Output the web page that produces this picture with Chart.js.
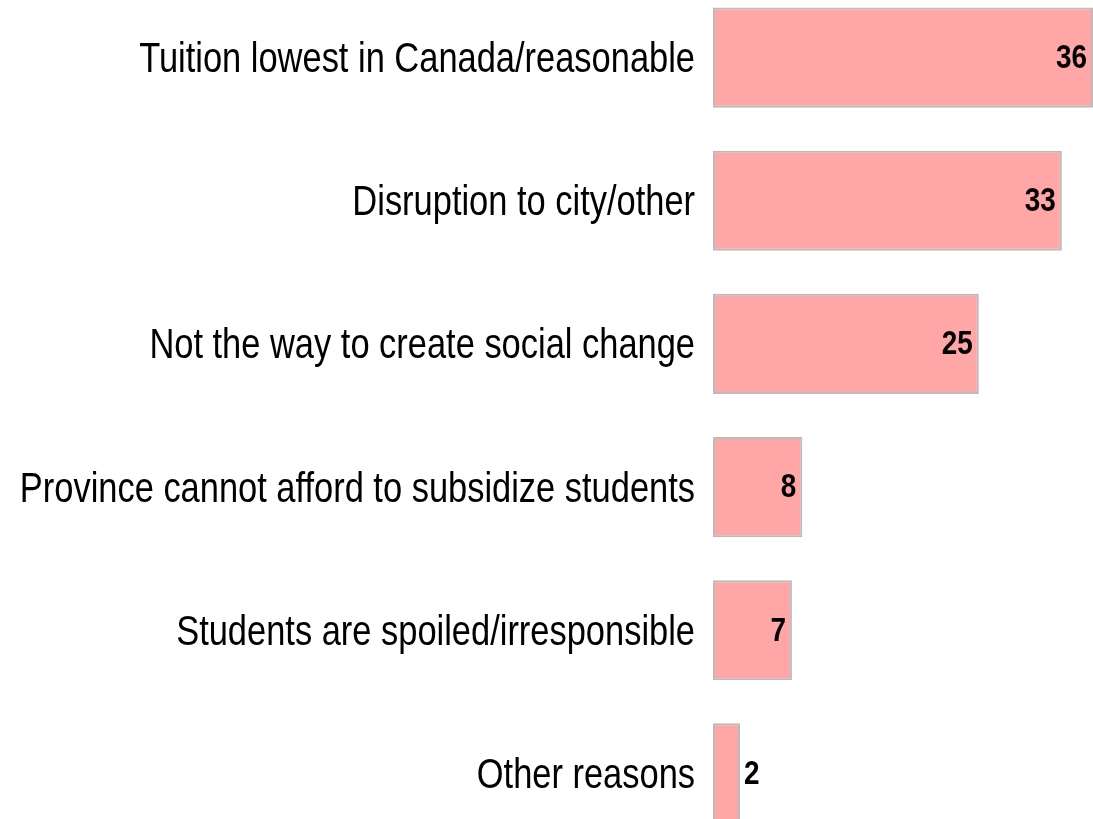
<!DOCTYPE html>
<html>
<head>
<meta charset="utf-8">
<script src="https://cdn.jsdelivr.net/npm/chart.js@4/dist/chart.umd.min.js"></script>
<style>
  html, body { margin: 0; padding: 0; background: #fff; overflow: hidden; }
  #wrap { position: absolute; left: 0; top: -14px; width: 1093px; height: 859px; }
</style>
</head>
<body>
<div id="wrap"><canvas id="reasons-chart"></canvas></div>
<script>
var categories = [
  'Tuition lowest in Canada/reasonable',
  'Disruption to city/other',
  'Not the way to create social change',
  'Province cannot afford to subsidize students',
  'Students are spoiled/irresponsible',
  'Other reasons'
];
var values = [36, 33, 25, 8, 7, 2];

var FONT = '"Liberation Sans", Arial, sans-serif';
var NARROW = 0.82; // no Arial Narrow here, so squeeze Liberation Sans

function narrowText(ctx, txt, x, y, align) {
  ctx.save();
  ctx.translate(x, y);
  ctx.scale(NARROW, 1);
  ctx.textAlign = align;
  ctx.textBaseline = 'middle';
  ctx.fillText(txt, 0, 0);
  ctx.restore();
}

// category names on the left + value labels at the end of each bar
var narrowLabels = {
  id: 'narrowLabels',
  afterDatasetsDraw: function(chart) {
    var ctx = chart.ctx;
    var yScale = chart.scales.y;
    var meta = chart.getDatasetMeta(0);
    ctx.save();
    ctx.fillStyle = '#000';
    ctx.font = '42px ' + FONT;
    categories.forEach(function(c, i) {
      narrowText(ctx, c, yScale.right - 18, yScale.getPixelForValue(i) + 3, 'right');
    });
    ctx.font = 'bold 34px ' + FONT;
    meta.data.forEach(function(bar, i) {
      var txt = String(values[i]);
      var w = ctx.measureText(txt).width * NARROW;
      var len = bar.x - bar.base;
      if (len > w + 14) {
        narrowText(ctx, txt, Math.min(bar.x, chart.chartArea.right) - 6, bar.y + 1, 'right');
      } else {
        narrowText(ctx, txt, bar.x + 4, bar.y + 1, 'left');
      }
    });
    ctx.restore();
  }
};

var reasonsChart = new Chart(document.getElementById('reasons-chart'), {
  type: 'bar',
  data: {
    labels: categories,
    datasets: [
      {
        data: values,
        base: -0.6,
        backgroundColor: '#FFA6A6',
        borderColor: '#BBBBBB',
        borderWidth: 2,
        borderSkipped: false,
        categoryPercentage: 0.7,
        barPercentage: 1
      }
    ]
  },
  options: {
    indexAxis: 'y',
    responsive: true,
    maintainAspectRatio: false,
    animation: false,
    layout: { padding: 0 },
    plugins: {
      legend: { display: false },
      tooltip: { enabled: false }
    },
    scales: {
      x: {
        display: false,
        min: -0.6,
        max: 36
      },
      y: {
        border: { display: false },
        grid: { display: false, drawTicks: false },
        ticks: { display: false },
        afterFit: function(scale) { scale.width = 713; }
      }
    }
  },
  plugins: [narrowLabels]
});
</script>
</body>
</html>
